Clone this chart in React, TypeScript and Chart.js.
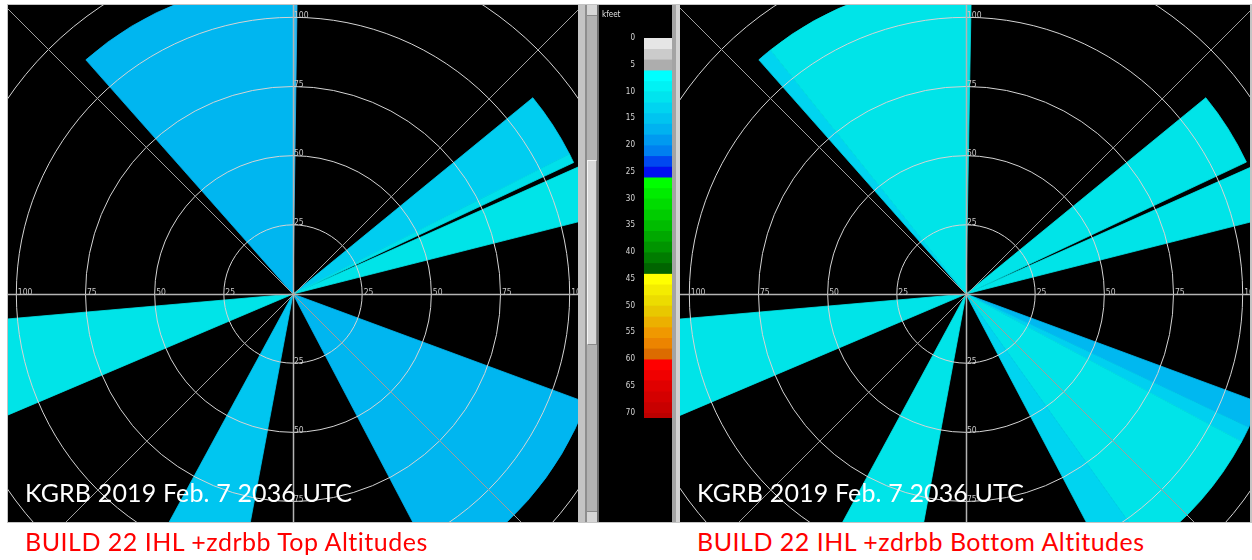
import React, { useEffect, useRef } from "react";
import { Chart, registerables } from "chart.js";

Chart.register(...registerables);

// ---------------- DATA ----------------
// range rings (units) and spoke azimuths (deg clockwise from north)
const ringValues = [25, 50, 75, 100];
const spokeAzimuths = [0, 45, 90, 135, 180, 225, 270, 315];

// "Top Altitudes" panel: wedge start / end azimuth (deg), range, colour
const topWedgeStart = [0, 50.7, 63.2, 66.0, 110.3, 190.6, 247.0, 318.5];
const topWedgeEnd = [0.8, 63.2, 64.9, 75.8, 152.3, 208.5, 265.0, 360];
const topWedgeRange = [113, 112, 112, 113, 113, 113, 113, 113];
const topWedgeColor = ["#2ab8f0", "#00cdf0", "#00e0ea", "#00e4e8", "#00b6f0", "#00c6f0", "#00e4e8", "#00b6f0"];

// "Bottom Altitudes" panel
const bottomWedgeStart = [0, 50.7, 66.0, 110.3, 115.3, 118.2, 144.5, 190.5, 247.0, 318.5, 321.3];
const bottomWedgeEnd = [1.0, 64.8, 75.8, 115.3, 118.2, 144.5, 152.2, 208.4, 265.0, 321.3, 360];
const bottomWedgeRange = [113, 112, 113, 113, 113, 113, 113, 113, 113, 113, 113];
const bottomWedgeColor = ["#00e4e8", "#00e4e8", "#00e4e8", "#00b8f0", "#00d0f0", "#00e4e8", "#00d4f0", "#00e4e8", "#00e4e8", "#00d4f0", "#00e4e8"];

// colour bar (kfeet)
const colorbarLevels = [0, 2, 4, 6, 8, 10, 12, 14, 16, 18, 20, 22, 24, 26, 28, 30, 32, 34, 36, 38, 40, 42, 44, 46, 48, 50, 52, 54, 56, 58, 60, 62, 64, 66, 68, 70, 72];
const colorbarColors = [
  "#e6e6e6", "#cbcbcb", "#adadad",
  "#00ffff", "#00f2f4", "#00e4ee", "#00d4f0", "#00c4f0", "#00b2f0", "#009af0", "#0080f0", "#0048f0", "#0010f0",
  "#00ff00", "#00ec00", "#00dc00", "#00cc00", "#00bc00", "#00a800", "#009400", "#007c00", "#006400",
  "#ffff00", "#f4ec00", "#ecdc00", "#e8c800", "#ecb000", "#f09800", "#ec8400", "#dc6c00",
  "#ff0000", "#f00000", "#e00000", "#d40000", "#c80000", "#bc0000",
];
const colorbarTickValues = [0, 5, 10, 15, 20, 25, 30, 35, 40, 45, 50, 55, 60, 65, 70];
const colorbarMax = 71;

const panelTitle = "KGRB 2019 Feb. 7 2036 UTC";
const topCaption = "BUILD 22 IHL +zdrbb Top Altitudes";
const bottomCaption = "BUILD 22 IHL +zdrbb Bottom Altitudes";

// ---------------- HELPERS ----------------
function buildSegments(starts: number[], ends: number[], ranges: number[], colors: string[]) {
  const order = starts.map((_, i) => i).sort((a, b) => starts[a] - starts[b]);
  const angles: number[] = [];
  const values: number[] = [];
  const bg: string[] = [];
  const labels: string[] = [];
  let cursor = 0;
  for (const i of order) {
    if (starts[i] > cursor + 1e-6) {
      angles.push(starts[i] - cursor);
      values.push(0);
      bg.push("rgba(0,0,0,0)");
      labels.push("");
    }
    angles.push(ends[i] - starts[i]);
    values.push(ranges[i]);
    bg.push(colors[i]);
    labels.push(starts[i] + "-" + ends[i]);
    cursor = ends[i];
  }
  if (cursor < 360 - 1e-6) {
    angles.push(360 - cursor);
    values.push(0);
    bg.push("rgba(0,0,0,0)");
    labels.push("");
  }
  return { angles, values, bg, labels };
}

const SMALL_FONT = '"DejaVu Sans Condensed", "DejaVu Sans", sans-serif';

const radarOverlay = {
  id: "radarOverlay",
  afterDraw(chart: any) {
    const r = chart.scales.r;
    const ctx = chart.ctx;
    const cx = r.xCenter + 0.5;
    const cy = r.yCenter + 0.5;
    const far = r.getDistanceFromCenterForValue(r.max) * 1.5;
    ctx.save();
    spokeAzimuths.forEach((az) => {
      const main = az % 90 === 0;
      const rad = ((az - 90) * Math.PI) / 180;
      ctx.beginPath();
      ctx.strokeStyle = main ? "#b4b4b4" : "#9e9e9e";
      ctx.lineWidth = main ? 1.5 : 1;
      ctx.moveTo(cx, cy);
      ctx.lineTo(cx + far * Math.cos(rad), cy + far * Math.sin(rad));
      ctx.stroke();
    });
    ctx.font = "8.5px " + SMALL_FONT;
    ctx.fillStyle = "#c8c8c8";
    ctx.textAlign = "left";
    ctx.textBaseline = "alphabetic";
    ringValues.forEach((v) => {
      const d = r.getDistanceFromCenterForValue(v);
      const t = String(v);
      ctx.fillText(t, cx + d + 1, cy + 0.5);
      ctx.fillText(t, cx - d + 1, cy + 0.5);
      ctx.fillText(t, cx + 0.5, cy - d);
      ctx.fillText(t, cx + 0.5, cy + d);
    });
    ctx.restore();
  },
};

const CANVAS = 831;

function RadarPanel(props: any) {
  const ref = useRef<HTMLCanvasElement>(null);
  const { left, canvasLeft, starts, ends, ranges, colors, caption } = props;
  useEffect(() => {
    const seg = buildSegments(starts, ends, ranges, colors);
    const chart = new Chart(ref.current as HTMLCanvasElement, {
      type: "polarArea",
      data: {
        labels: seg.labels,
        datasets: [
          {
            data: seg.values,
            backgroundColor: seg.bg,
            borderColor: seg.bg,
            borderWidth: 0.8,
            borderJoinStyle: "miter",
            angle: (c: any) => seg.angles[c.dataIndex],
          } as any,
        ],
      },
      options: {
        responsive: false,
        animation: false,
        layout: { padding: 0 },
        plugins: { legend: { display: false }, tooltip: { enabled: false } },
        scales: {
          r: {
            min: 0,
            max: 150,
            startAngle: 0,
            z: 1,
            ticks: { display: false, stepSize: 25 },
            grid: { circular: true, color: "#d4d4d4", lineWidth: 1, z: 1 },
            angleLines: { display: false },
            pointLabels: { display: false },
          } as any,
        },
      },
      plugins: [radarOverlay],
    });
    return () => chart.destroy();
  }, []);
  return (
    <>
      <div
        style={{
          position: "absolute",
          left,
          top: 5,
          width: 570,
          height: 517,
          background: "#000",
          overflow: "hidden",
        }}
      >
        <canvas
          ref={ref}
          width={CANVAS}
          height={CANVAS}
          style={{ position: "absolute", left: canvasLeft, top: -126, width: CANVAS, height: CANVAS }}
        />
        <div
          style={{
            position: "absolute",
            left: 17,
            top: 475,
            color: "#ffffff",
            font: '25px Lato, "Open Sans", sans-serif',
            lineHeight: 1,
            whiteSpace: "nowrap",
            letterSpacing: 0.15,
          }}
        >
          {panelTitle}
        </div>
      </div>
      <div
        style={{
          position: "absolute",
          left: left + 17,
          top: 529,
          color: "#ff0000",
          font: '25px Lato, "Open Sans", sans-serif',
          lineHeight: 1,
          whiteSpace: "nowrap",
          letterSpacing: 0.5,
        }}
      >
        {caption}
      </div>
    </>
  );
}

const kfeetPlugin = {
  id: "kfeetLabel",
  afterDraw(chart: any) {
    const ctx = chart.ctx;
    ctx.save();
    ctx.font = "8px " + SMALL_FONT;
    ctx.fillStyle = "#e0e0e0";
    ctx.textAlign = "left";
    ctx.textBaseline = "alphabetic";
    ctx.fillText("kfeet", 3, 11.5);
    ctx.restore();
  },
};

function ColorBar() {
  const ref = useRef<HTMLCanvasElement>(null);
  useEffect(() => {
    const datasets = colorbarColors.map((c, i) => ({
      label: colorbarLevels[i] + "-" + colorbarLevels[i + 1],
      data: [colorbarLevels[i + 1] - colorbarLevels[i]],
      backgroundColor: c,
      borderWidth: 0,
      categoryPercentage: 1,
      barPercentage: 1,
      clip: 0,
    }));
    const chart = new Chart(ref.current as HTMLCanvasElement, {
      type: "bar",
      data: { labels: ["kfeet"], datasets: datasets as any },
      options: {
        responsive: false,
        animation: false,
        layout: { padding: { top: 33, bottom: 104, left: 0, right: 0 } },
        plugins: { legend: { display: false }, tooltip: { enabled: false } },
        scales: {
          x: { display: false, stacked: true },
          y: {
            stacked: true,
            reverse: true,
            min: 0,
            max: colorbarMax,
            position: "left",
            grid: { display: false, drawTicks: false },
            border: { display: false },
            ticks: { color: "#d8d8d8", font: { family: SMALL_FONT, size: 8 }, padding: 9, autoSkip: false },
            afterBuildTicks: (s: any) => {
              s.ticks = colorbarTickValues.map((v) => ({ value: v }));
            },
            afterFit: (s: any) => {
              s.width = 45;
            },
          } as any,
        },
      },
      plugins: [kfeetPlugin],
    });
    return () => chart.destroy();
  }, []);
  return (
    <div style={{ position: "absolute", left: 599, top: 5, width: 73, height: 517, background: "#000" }}>
      <canvas ref={ref} width={73} height={517} style={{ width: 73, height: 517 }} />
    </div>
  );
}

function Box(p: any) {
  return <div style={{ position: "absolute", left: p.x, top: p.y, width: p.w, height: p.h, background: p.c, ...(p.s || {}) }} />;
}

export default function App() {
  return (
    <div style={{ position: "absolute", left: 0, top: 0, width: 1252, height: 560, background: "#ffffff", overflow: "hidden" }}>
      {/* window frame */}
      <Box x={7} y={4} w={1245} h={519} c="#c4c4c4" />
      {/* scroll bar column */}
      <Box x={585} y={5} w={2} h={517} c="#8e8e8e" />
      <Box x={587} y={5} w={10} h={517} c="#b2b2b2" />
      <Box x={597} y={5} w={2} h={517} c="#6e6e6e" />
      <Box x={587} y={5} w={10} h={11} c="#d6d6d6" s={{ borderBottom: "1px solid #8a8a8a", boxSizing: "border-box" }} />
      <Box x={587} y={511} w={10} h={11} c="#d6d6d6" s={{ borderTop: "1px solid #8a8a8a", boxSizing: "border-box" }} />
      <Box x={587} y={160} w={10} h={185} c="#d8d8d8" s={{ borderLeft: "1px solid #f4f4f4", borderTop: "1px solid #f4f4f4", borderRight: "1px solid #8a8a8a", borderBottom: "1px solid #8a8a8a", boxSizing: "border-box" }} />
      <Box x={672} y={5} w={4} h={517} c="#a4a4a4" />
      <Box x={676} y={5} w={4} h={517} c="#d2d2d2" />
      <RadarPanel
        left={8}
        canvasLeft={-130}
        starts={topWedgeStart}
        ends={topWedgeEnd}
        ranges={topWedgeRange}
        colors={topWedgeColor}
        caption={topCaption}
      />
      <ColorBar />
      <RadarPanel
        left={680}
        canvasLeft={-129}
        starts={bottomWedgeStart}
        ends={bottomWedgeEnd}
        ranges={bottomWedgeRange}
        colors={bottomWedgeColor}
        caption={bottomCaption}
      />
    </div>
  );
}
